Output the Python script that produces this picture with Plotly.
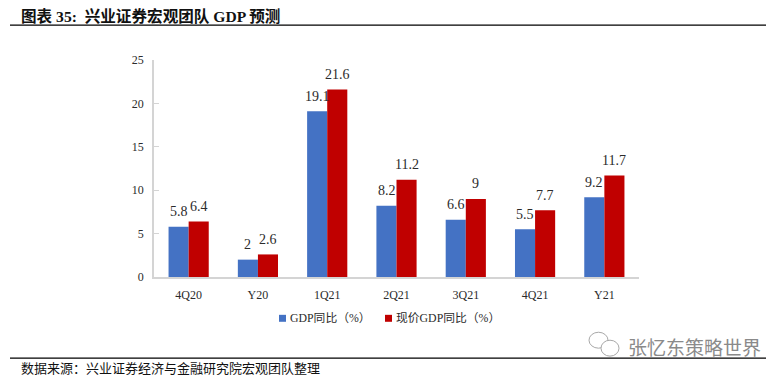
import plotly.graph_objects as go

categories = ["4Q20", "Y20", "1Q21", "2Q21", "3Q21", "4Q21", "Y21"]
gdp_yoy = [5.8, 2, 19.1, 8.2, 6.6, 5.5, 9.2]
nominal_gdp_yoy = [6.4, 2.6, 21.6, 11.2, 9, 7.7, 11.7]
series_names = ["GDP同比（%）", "现价GDP同比（%）"]
y_ticks = [0, 5, 10, 15, 20, 25]
title_text = "图表 35:  兴业证券宏观团队 GDP 预测"
source_text = "数据来源：兴业证券经济与金融研究院宏观团队整理"
watermark_text = "张忆东策略世界"

SERIF = "'Liberation Serif', 'Noto Sans CJK SC', serif"
CJK = "'Liberation Serif', 'Noto Sans CJK SC', serif"
TXT = "#2b2b2b"
BLUE, RED = "#4472C4", "#C00000"
W, H, L, R, T, B = 784, 381, 154, 145, 59.5, 103.5
PW, PH = W - L - R, H - T - B

def fx(x): return (x - L) / PW
def fy(y): return (H - B - y) / PH

fig = go.Figure()
for name, vals, col in [(series_names[0], gdp_yoy, BLUE), (series_names[1], nominal_gdp_yoy, RED)]:
    fig.add_bar(x=categories, y=vals, name=name, marker=dict(color=col, line=dict(width=0)))

def hline(y, x0, x1):
    return dict(type="line", xref="paper", yref="paper", x0=fx(x0), x1=fx(x1), y0=fy(y), y1=fy(y),
                line=dict(color="#000", width=1.2))

def box(kind, x0, y0, x1, y1, fill, line=None):
    return dict(type=kind, xref="paper", yref="paper", x0=fx(x0), x1=fx(x1), y0=fy(y1), y1=fy(y0),
                fillcolor=fill, line=dict(color=line or fill, width=1 if line else 0))

shapes = [
    hline(24.5, 10, 766),
    hline(359, 10, 766),
    box("rect", 279, 315.5, 286, 322.5, BLUE),
    box("rect", 385, 315.5, 392, 322.5, RED),
    box("circle", 589, 333, 608, 349, "white", "#a8a8a8"),
    box("circle", 601, 341, 619, 357, "white", "#a8a8a8"),
]

def note(text, x, y, size, color="#111", family=CJK, anchor="left"):
    return dict(text=text, xref="paper", yref="paper", x=fx(x), y=fy(y), xanchor=anchor, yanchor="middle",
                showarrow=False, font=dict(family=family, size=size, color=color))

annotations = [
    note("<b>" + title_text + "</b>", 19, 15, 15.6),
    note(source_text, 19, 369, 13),
    note(watermark_text, 626, 347, 19, color="#8a8a8a", family="'Noto Sans CJK SC', sans-serif"),
    note(series_names[0], 288, 319, 11.8, color=TXT),
    note(series_names[1], 394, 319, 11.8, color=TXT),
]
for vals, shift in [(gdp_yoy, -10), (nominal_gdp_yoy, 10)]:
    for c, v in zip(categories, vals):
        annotations.append(dict(x=c, y=v, xref="x", yref="y", text=str(v), showarrow=False, xshift=shift, yshift=15,
                                xanchor="center", yanchor="middle",
                                font=dict(family=SERIF, size=14, color=TXT)))

fig.update_layout(
    width=W, height=H, margin=dict(l=L, r=R, t=T, b=B, pad=0),
    paper_bgcolor="white", plot_bgcolor="white", barmode="group", bargap=0.42, bargroupgap=0,
    shapes=shapes, annotations=annotations, showlegend=False,
    font=dict(family=SERIF, size=12, color=TXT),
    xaxis=dict(type="category", showline=True, linecolor="#d4d4d4", linewidth=1.5, ticks="", showgrid=False,
               tickfont=dict(family=SERIF, size=12, color=TXT), ticklabelstandoff=6),
    yaxis=dict(range=[0, 25], tickvals=y_ticks, showline=True, linecolor="#d4d4d4", linewidth=1.5, ticks="inside",
               tickcolor="#d4d4d4", ticklen=5, showgrid=False, zeroline=False, ticklabelstandoff=6,
               tickfont=dict(family=SERIF, size=12, color=TXT)),
)
fig.write_html("out.html", post_script="document.body.style.margin='0';", config=dict(displayModeBar=False))
